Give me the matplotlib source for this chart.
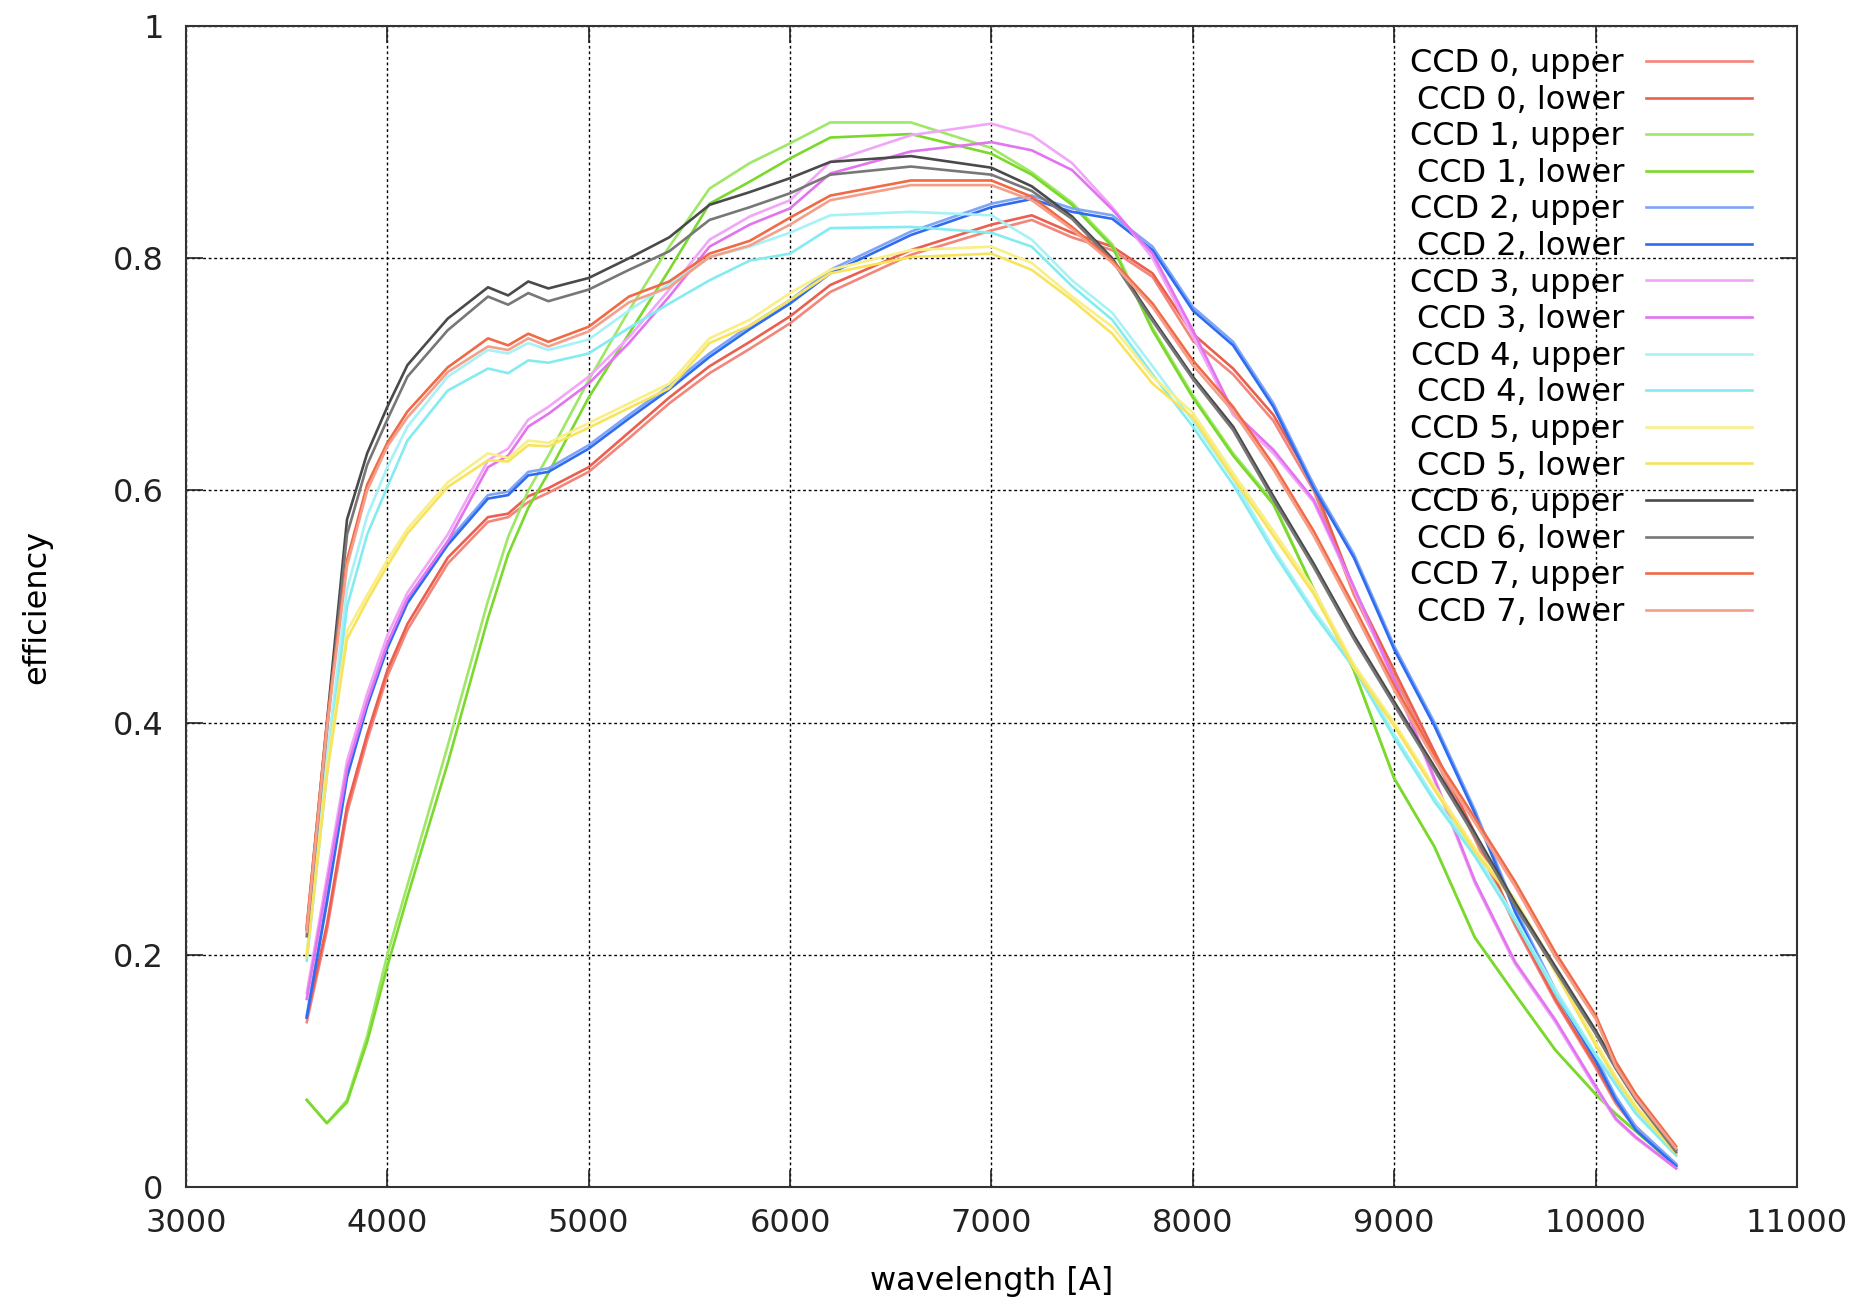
import matplotlib
matplotlib.use("Agg")
from matplotlib import pyplot as plt
from matplotlib import ticker

# Wavelength grid [A]
wavelength = [3600, 3700, 3800, 3900, 4000, 4100, 4300, 4500, 4600, 4700, 4800,
              5000, 5200, 5400, 5600, 5800, 6000, 6200, 6600, 7000, 7200, 7400,
              7600, 7800, 8000, 8200, 8400, 8600, 8800, 9000, 9200, 9400, 9600,
              9800, 10000, 10100, 10200, 10400]

# Efficiency per CCD half
ccd0_upper = [0.142, 0.221, 0.322, 0.385, 0.440, 0.480, 0.537, 0.573, 0.577, 0.590, 0.598,
              0.616, 0.645, 0.675, 0.701, 0.722, 0.744, 0.771, 0.803, 0.824, 0.833, 0.818,
              0.807, 0.784, 0.729, 0.700, 0.660, 0.600, 0.510, 0.440, 0.370, 0.300, 0.225,
              0.160, 0.103, 0.072, 0.050, 0.018]
ccd0_lower = [0.146, 0.226, 0.328, 0.390, 0.445, 0.485, 0.542, 0.577, 0.580, 0.595, 0.602,
              0.620, 0.650, 0.680, 0.707, 0.728, 0.750, 0.777, 0.807, 0.829, 0.837, 0.822,
              0.810, 0.787, 0.735, 0.705, 0.665, 0.605, 0.515, 0.445, 0.375, 0.305, 0.228,
              0.162, 0.105, 0.074, 0.052, 0.019]
ccd1_upper = [0.075, 0.055, 0.075, 0.130, 0.200, 0.260, 0.380, 0.505, 0.560, 0.600, 0.630,
              0.695, 0.755, 0.810, 0.860, 0.882, 0.899, 0.917, 0.917, 0.895, 0.874, 0.848,
              0.812, 0.740, 0.682, 0.632, 0.590, 0.515, 0.445, 0.352, 0.293, 0.215, 0.166,
              0.118, 0.080, 0.063, 0.048, 0.018]
ccd1_lower = [0.075, 0.055, 0.073, 0.125, 0.190, 0.250, 0.365, 0.490, 0.545, 0.585, 0.615,
              0.680, 0.735, 0.790, 0.847, 0.866, 0.886, 0.904, 0.907, 0.890, 0.872, 0.846,
              0.810, 0.738, 0.680, 0.630, 0.588, 0.515, 0.445, 0.352, 0.293, 0.215, 0.166,
              0.118, 0.080, 0.063, 0.048, 0.018]
ccd2_upper = [0.148, 0.248, 0.356, 0.417, 0.467, 0.506, 0.556, 0.596, 0.599, 0.616, 0.619,
              0.639, 0.665, 0.690, 0.718, 0.742, 0.764, 0.790, 0.823, 0.847, 0.854, 0.843,
              0.837, 0.810, 0.758, 0.728, 0.675, 0.605, 0.545, 0.466, 0.400, 0.325, 0.240,
              0.170, 0.112, 0.078, 0.052, 0.020]
ccd2_lower = [0.146, 0.245, 0.353, 0.414, 0.464, 0.503, 0.553, 0.593, 0.596, 0.613, 0.616,
              0.636, 0.662, 0.687, 0.715, 0.739, 0.761, 0.787, 0.820, 0.844, 0.851, 0.840,
              0.834, 0.807, 0.755, 0.725, 0.672, 0.602, 0.542, 0.463, 0.397, 0.322, 0.237,
              0.167, 0.109, 0.075, 0.049, 0.018]
ccd3_upper = [0.167, 0.267, 0.367, 0.425, 0.475, 0.512, 0.562, 0.626, 0.636, 0.661, 0.672,
              0.698, 0.732, 0.773, 0.816, 0.836, 0.850, 0.883, 0.906, 0.916, 0.906, 0.882,
              0.844, 0.800, 0.733, 0.665, 0.632, 0.590, 0.515, 0.435, 0.350, 0.262, 0.192,
              0.142, 0.085, 0.058, 0.042, 0.016]
ccd3_lower = [0.162, 0.260, 0.360, 0.418, 0.468, 0.507, 0.556, 0.620, 0.630, 0.655, 0.666,
              0.692, 0.727, 0.767, 0.810, 0.829, 0.843, 0.873, 0.892, 0.900, 0.893, 0.876,
              0.842, 0.804, 0.738, 0.668, 0.635, 0.592, 0.517, 0.437, 0.352, 0.264, 0.194,
              0.144, 0.087, 0.059, 0.043, 0.016]
ccd4_upper = [0.200, 0.370, 0.515, 0.578, 0.620, 0.655, 0.698, 0.721, 0.718, 0.727, 0.721,
              0.730, 0.755, 0.778, 0.801, 0.810, 0.822, 0.837, 0.840, 0.837, 0.816, 0.781,
              0.753, 0.707, 0.660, 0.610, 0.550, 0.497, 0.450, 0.390, 0.335, 0.288, 0.232,
              0.170, 0.115, 0.090, 0.065, 0.028]
ccd4_lower = [0.195, 0.355, 0.500, 0.562, 0.603, 0.643, 0.686, 0.705, 0.701, 0.712, 0.710,
              0.718, 0.740, 0.761, 0.781, 0.798, 0.804, 0.826, 0.827, 0.822, 0.810, 0.776,
              0.747, 0.700, 0.655, 0.605, 0.547, 0.494, 0.447, 0.387, 0.332, 0.285, 0.229,
              0.167, 0.113, 0.088, 0.063, 0.027]
ccd5_upper = [0.200, 0.360, 0.479, 0.510, 0.540, 0.567, 0.607, 0.632, 0.628, 0.643, 0.641,
              0.658, 0.675, 0.692, 0.731, 0.747, 0.770, 0.790, 0.807, 0.810, 0.796, 0.767,
              0.741, 0.698, 0.667, 0.615, 0.565, 0.515, 0.450, 0.400, 0.345, 0.292, 0.248,
              0.188, 0.125, 0.095, 0.070, 0.030]
ccd5_lower = [0.198, 0.355, 0.472, 0.505, 0.535, 0.563, 0.603, 0.626, 0.625, 0.639, 0.638,
              0.654, 0.671, 0.688, 0.727, 0.742, 0.764, 0.787, 0.801, 0.804, 0.790, 0.764,
              0.735, 0.692, 0.663, 0.611, 0.561, 0.511, 0.447, 0.397, 0.342, 0.289, 0.245,
              0.185, 0.122, 0.093, 0.068, 0.029]
ccd6_upper = [0.222, 0.400, 0.575, 0.632, 0.672, 0.708, 0.748, 0.775, 0.768, 0.780, 0.774,
              0.783, 0.800, 0.818, 0.846, 0.857, 0.869, 0.883, 0.888, 0.878, 0.862, 0.836,
              0.800, 0.748, 0.698, 0.655, 0.595, 0.537, 0.475, 0.418, 0.362, 0.305, 0.245,
              0.190, 0.135, 0.105, 0.078, 0.032]
ccd6_lower = [0.216, 0.392, 0.562, 0.622, 0.661, 0.698, 0.738, 0.767, 0.760, 0.770, 0.763,
              0.773, 0.790, 0.806, 0.833, 0.844, 0.856, 0.872, 0.879, 0.872, 0.858, 0.834,
              0.798, 0.746, 0.696, 0.652, 0.592, 0.534, 0.472, 0.415, 0.359, 0.302, 0.242,
              0.187, 0.132, 0.102, 0.075, 0.030]
ccd7_upper = [0.225, 0.400, 0.540, 0.605, 0.641, 0.668, 0.706, 0.731, 0.725, 0.735, 0.728,
              0.741, 0.767, 0.780, 0.804, 0.815, 0.835, 0.854, 0.867, 0.867, 0.853, 0.827,
              0.798, 0.761, 0.712, 0.672, 0.622, 0.565, 0.500, 0.432, 0.372, 0.318, 0.263,
              0.202, 0.148, 0.108, 0.080, 0.035]
ccd7_lower = [0.220, 0.395, 0.535, 0.600, 0.638, 0.663, 0.702, 0.724, 0.721, 0.731, 0.724,
              0.737, 0.762, 0.775, 0.801, 0.811, 0.829, 0.850, 0.863, 0.863, 0.850, 0.825,
              0.796, 0.758, 0.708, 0.668, 0.618, 0.561, 0.496, 0.428, 0.368, 0.314, 0.259,
              0.198, 0.145, 0.104, 0.077, 0.033]

series = [ccd0_upper, ccd0_lower, ccd1_upper, ccd1_lower, ccd2_upper, ccd2_lower,
          ccd3_upper, ccd3_lower, ccd4_upper, ccd4_lower, ccd5_upper, ccd5_lower,
          ccd6_upper, ccd6_lower, ccd7_upper, ccd7_lower]
labels = [f"CCD {i}, {half}" for i in range(8) for half in ("upper", "lower")]
colors = ["#f3857a", "#ea5f4f", "#9ee866", "#7ad92c", "#7fa5f7", "#2e6cf0",
          "#f2a6f7", "#e274f0", "#a6f2f6", "#84ecf0", "#f9ef86", "#f7e45c",
          "#4a4a4a", "#777777", "#f06a46", "#f59e8a"]

fig = plt.figure(figsize=(18.61, 12.97), dpi=100)
ax = fig.add_axes([0.0999, 0.0848, 0.8657, 0.8951])

for y, lab, col in zip(series, labels, colors):
    ax.plot(wavelength, y, color=col, lw=1.9, label=lab)

ax.set_xlim(3000, 11000)
ax.set_ylim(0, 1)
ax.xaxis.set_major_locator(ticker.MultipleLocator(1000))
ax.yaxis.set_major_locator(ticker.MultipleLocator(0.2))
ax.yaxis.set_major_formatter(ticker.FuncFormatter(lambda v, _: f"{v:g}"))

ax.tick_params(direction="in", length=12, width=1.2, top=True, right=True,
               labelsize=23, colors="#222222")
ax.tick_params(axis="y", pad=16)
ax.tick_params(axis="x", pad=15)
ax.grid(True, color="k", linestyle=(0, (2, 2)), lw=1.0)
for sp in ax.spines.values():
    sp.set_linewidth(1.5)
    sp.set_color("#333333")

ax.set_xlabel("wavelength [A]", fontsize=23)
ax.set_ylabel("efficiency", fontsize=23)
ax.xaxis.set_label_coords(0.5, -0.068)
ax.yaxis.set_label_coords(-0.083, 0.5)

ax.legend(loc="upper right", bbox_to_anchor=(0.972, 0.981), frameon=False,
          markerfirst=False, fontsize=23, handlelength=3.3, handletextpad=0.7,
          labelspacing=0.175, borderpad=0, borderaxespad=0)

fig.savefig("out.png", dpi=100)
